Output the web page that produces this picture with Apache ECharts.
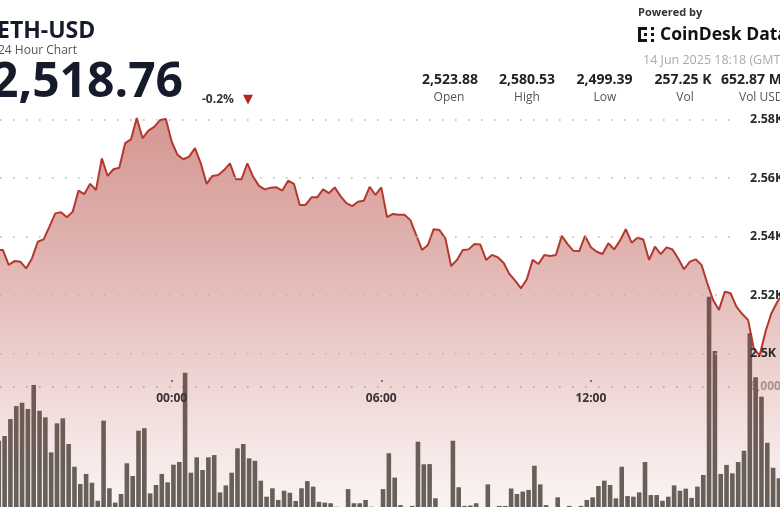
<!DOCTYPE html>
<html><head><meta charset="utf-8">
<script src="https://cdn.jsdelivr.net/npm/echarts@6/dist/echarts.min.js"></script>
<style>
html,body{margin:0;padding:0;background:#fff;overflow:hidden;width:780px;height:507px}
#c{position:absolute;left:0;top:0;width:800px;height:540px}
</style>
</head><body><div id="c"></div>
<script>
// Time axis: minutes from 00:00 GMT on 14 Jun 2025 (negative = 13 Jun)
const START_MIN = -340;   // first 10-minute sample (18:20 on 13 Jun)
const STEP_MIN = 10;
const BAR_SHIFT = 3;

const priceValues = [
2523.9,2527.4,2531.2,2533.6,2535.4,2535.4,2530.3,2531.6,2531.4,2529.1,
2532.5,2538.2,2539.0,2543.4,2547.9,2548.3,2546.6,2548.5,2555.7,2554.5,
2558.0,2555.9,2566.7,2560.7,2563.0,2563.5,2571.9,2573.2,2580.53,2573.6,
2576.2,2577.5,2579.8,2580.2,2572.4,2567.9,2566.4,2567.3,2570.2,2565.0,
2558.0,2560.7,2561.0,2562.7,2565.0,2559.6,2559.6,2565.0,2560.4,2557.3,
2556.1,2556.7,2556.8,2555.7,2559.1,2558.0,2550.8,2550.8,2553.4,2553.4,
2556.1,2554.8,2556.8,2553.8,2551.4,2550.4,2551.9,2552.2,2557.0,2554.2,
2556.8,2546.6,2547.7,2547.4,2547.4,2545.6,2540.5,2535.4,2537.1,2542.5,
2542.2,2539.4,2529.9,2532.0,2535.4,2535.6,2537.4,2537.3,2532.0,2533.7,
2532.9,2531.0,2527.2,2524.9,2522.3,2525.4,2532.0,2530.6,2533.7,2533.3,
2533.7,2540.2,2537.4,2535.1,2535.0,2540.2,2536.3,2534.8,2534.0,2537.7,
2535.6,2538.6,2542.5,2537.9,2539.6,2539.0,2532.0,2536.5,2534.0,2536.3,
2535.6,2532.5,2528.8,2531.4,2532.2,2530.3,2524.0,2518.3,2514.9,2521.1,
2520.6,2516.0,2513.5,2511.5,2501.5,2499.39,2507.5,2513.7,2517.6,2520.4,
2521.5,2520.1,2519.3,2518.76
];

const volumeValues = [
3200,2900,3400,3100,3380,3610,4440,5070,5230,4930,
6100,4840,4520,2810,4230,4470,3220,2110,1270,1760,
1330,450,4360,1060,360,780,2280,1660,3870,3990,
810,1220,1760,1350,2210,2340,6700,1820,2570,1950,
2570,2680,860,1200,1820,3010,3220,2520,2400,1430,
650,1060,490,940,840,440,1060,1410,1140,400,
360,330,160,70,1020,330,330,490,160,70,
1020,2770,1580,240,150,200,3330,2230,2240,570,
100,150,3380,1110,200,220,330,100,1250,100,
200,200,1050,780,900,980,2160,1250,240,100,
620,100,200,100,200,490,620,1170,1430,1220,
570,2110,680,650,860,2340,730,730,450,650,
1200,940,1040,590,1140,1710,10400,7760,1760,2200,
1790,2340,2890,8620,6470,5530,3280,2060,1550,1900,
1400,1700,1200,1000
];

const priceTicks = { min: 2500, max: 2580, step: 20 };
const volumeTicks = { min: 0, max: 12000, step: 6000 };
const timeTicks = [0, 360, 720];

const statValues = ['2,523.88', '2,580.53', '2,499.39', '257.25 K', '652.87 M'];
const statLabels = ['Open', 'High', 'Low', 'Vol', 'Vol USD'];

// visible x range (minutes) for the 800px-wide plot and the 740px gridline area
const X_MIN = -294.9, X_MAX = 1079.2, X_MAX_GL = 976.2;

const priceData = priceValues.map((v, i) => [START_MIN + i * STEP_MIN, v]);
const volData = volumeValues.map((v, i) => [START_MIN + i * STEP_MIN + BAR_SHIFT, v]);

function fmtTime(v) {
  const h = Math.floor(v / 60), m = v % 60;
  return String(h).padStart(2, '0') + ':' + String(m).padStart(2, '0');
}

const F = '"Open Sans", "Noto Sans", sans-serif';
function txt(x, y, text, font, fill, align) {
  align = align || 'left';
  return { type: 'text', x: x, y: y, z: 20,
    style: { text: text, font: font, fill: fill, textAlign: align, align: align,
             textVerticalAlign: 'middle', verticalAlign: 'middle' } };
}
function box(x, y, w, h) {
  return { type: 'rect', z: 20, shape: { x: x, y: y, width: w, height: h }, style: { fill: '#141414' } };
}

const statCols = [
  { v: 450, l: 449, a: 'center' },
  { v: 527, l: 527, a: 'center' },
  { v: 604.5, l: 605, a: 'center' },
  { v: 683, l: 685, a: 'center' },
  { v: 721, l: 739, a: 'left' }
];
const graphics = [
  txt(-3, 31, 'ETH-USD', 'bold 23px ' + F, '#161b2b'),
  txt(-2, 50.5, '24 Hour Chart', '12px ' + F, '#555'),
  txt(-9, 83, '2,518.76', 'bold 48px ' + F, '#161b2b'),
  txt(202, 99.5, '-0.2%', 'bold 12px ' + F, '#333'),
  txt(248, 99.5, '▼', '13px "DejaVu Sans"', '#b3261e', 'center'),
  txt(638, 12.5, 'Powered by', 'bold 11px ' + F, '#333'),
  txt(660, 35, 'CoinDesk Data', 'bold 17.5px ' + F, '#111'),
  txt(643, 60, '14 Jun 2025 18:18 (GMT)', '12.5px ' + F, '#aaa'),
  box(638, 27, 3, 15), box(638, 27, 9, 3), box(638, 39, 9, 3),
  box(644, 33, 3, 3), box(651, 27, 3, 3), box(651, 33, 3, 3), box(651, 39, 3, 3)
];
statValues.forEach((s, i) => {
  const c = statCols[i];
  graphics.push(txt(c.v, 80, s, 'bold 14px ' + F, '#222', c.a));
  graphics.push(txt(c.l, 98, statLabels[i], '12px ' + F, '#555', c.a));
});

const dotted = { color: '#b8b8b8', width: 1.6, type: [1.6, 11.4] };

const option = {
  animation: false,
  backgroundColor: '#ffffff',
  textStyle: { fontFamily: F },
  grid: [
    { left: 0, top: 61, width: 800, height: 468 },
    { left: 0, top: 119.5, width: 740, height: 234 },
    { left: 0, top: 264, width: 800, height: 246 },
    { left: 0, top: 264, width: 740, height: 246 },
    { left: 0, top: 0, width: 800, height: 380 }
  ],
  xAxis: [
    { gridIndex: 0, type: 'value', min: X_MIN, max: X_MAX, show: false },
    { gridIndex: 1, type: 'value', min: X_MIN, max: X_MAX_GL, show: false },
    { gridIndex: 2, type: 'value', min: X_MIN, max: X_MAX, show: false },
    { gridIndex: 3, type: 'value', min: X_MIN, max: X_MAX_GL, show: false },
    { gridIndex: 4, type: 'value', min: X_MIN, max: X_MAX, z: 6,
      splitLine: { show: false }, axisLine: { show: false },
      axisTick: { show: true, customValues: timeTicks, length: 2, lineStyle: { color: '#555', width: 1.5 } },
      axisLabel: { customValues: timeTicks, formatter: fmtTime, margin: 13, color: '#333',
                   fontWeight: 'bold', fontSize: 12, fontFamily: F } }
  ],
  yAxis: [
    { gridIndex: 0, type: 'value', min: 2440, max: 2600, show: false },
    { gridIndex: 1, type: 'value', min: priceTicks.min, max: priceTicks.max, interval: priceTicks.step,
      position: 'right', z: 5,
      axisLine: { show: false }, axisTick: { show: false },
      splitLine: { show: true, lineStyle: dotted },
      axisLabel: { margin: 10, color: '#2a2a2a', fontWeight: 'bold', fontSize: 12.5, fontFamily: F,
                   formatter: v => (v / 1000) + 'K' } },
    { gridIndex: 2, type: 'value', min: volumeTicks.min, max: volumeTicks.max, show: false },
    { gridIndex: 3, type: 'value', min: volumeTicks.min, max: volumeTicks.max, interval: volumeTicks.step,
      position: 'right', z: 0,
      axisLine: { show: false }, axisTick: { show: false },
      splitLine: { show: true, showMinLine: false, showMaxLine: false, lineStyle: dotted },
      axisLabel: { showMinLabel: false, showMaxLabel: false, margin: 10, color: '#a9a9a9',
                   fontWeight: 'bold', fontSize: 12, fontFamily: F,
                   formatter: v => v.toLocaleString('en-US') } },
    { gridIndex: 4, type: 'value', min: 0, max: 1, show: false }
  ],
  series: [
    { type: 'bar', xAxisIndex: 2, yAxisIndex: 2, data: volData, barWidth: 4.6, z: 1,
      itemStyle: { color: '#61645d' } },
    { type: 'line', xAxisIndex: 0, yAxisIndex: 0, data: priceData, symbol: 'none', z: 2,
      lineStyle: { color: '#b3392f', width: 2 },
      areaStyle: { origin: 'start', color: {
        type: 'linear', x: 0, y: 117, x2: 0, y2: 529, global: true,
        colorStops: [
          { offset: 0, color: 'rgba(172,48,40,0.72)' },
          { offset: 0.33, color: 'rgba(172,48,40,0.52)' },
          { offset: 0.57, color: 'rgba(172,48,40,0.34)' },
          { offset: 0.8, color: 'rgba(172,48,40,0.17)' },
          { offset: 1, color: 'rgba(172,48,40,0.05)' }
        ] } } },
    { type: 'line', xAxisIndex: 1, yAxisIndex: 1, data: [] },
    { type: 'line', xAxisIndex: 3, yAxisIndex: 3, data: [] },
    { type: 'line', xAxisIndex: 4, yAxisIndex: 4, data: [] }
  ],
  graphic: graphics
};

const chart = echarts.init(document.getElementById('c'), null, { renderer: 'canvas' });
chart.setOption(option);
</script>
</body></html>
